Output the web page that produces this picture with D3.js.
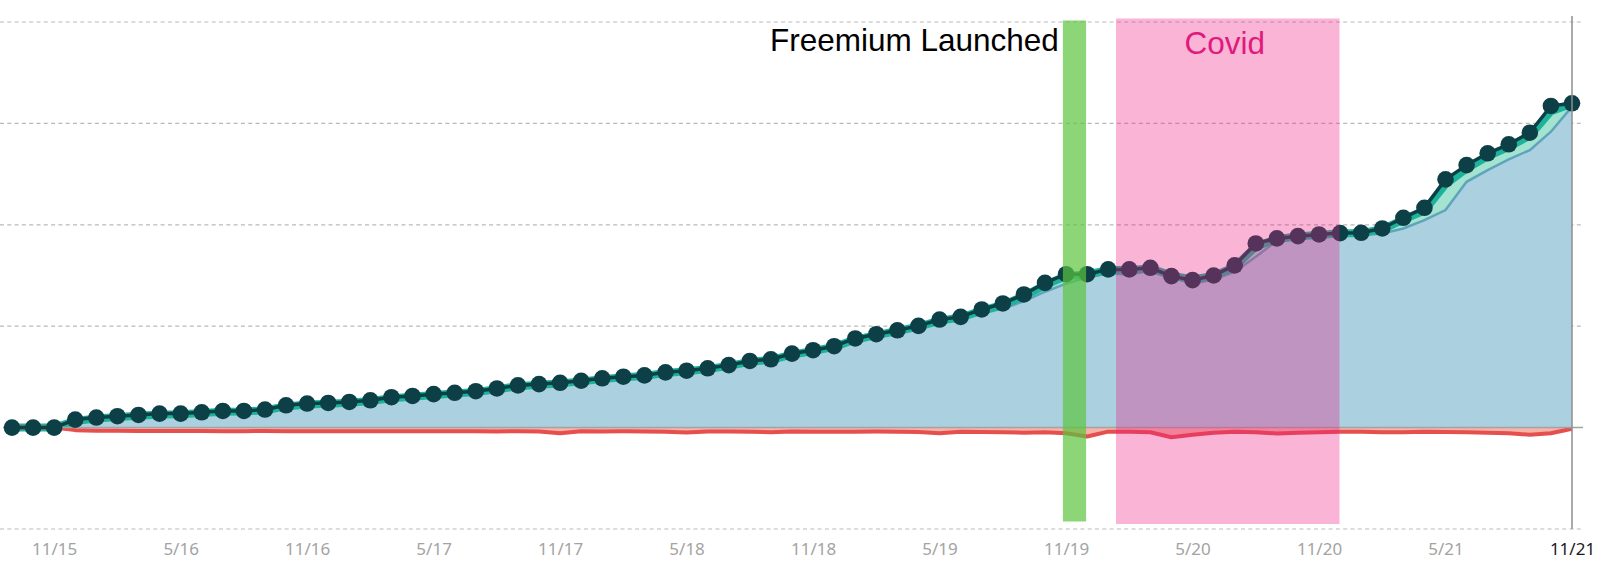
<!DOCTYPE html>
<html>
<head>
<meta charset="utf-8">
<script src="https://cdn.jsdelivr.net/npm/d3@7"></script>
<style>
  html, body { margin: 0; padding: 0; background: #ffffff; }
  svg { display: block; }
</style>
</head>
<body>
<svg id="chart" width="1600" height="572"></svg>
<script>
// ---------- DATA ----------
// monthly points, Sep 2015 .. Nov 2021 (75 months)
const startMonth = new Date(2015, 8, 1);
const endMonth = new Date(2021, 11, 1);
const months = d3.timeMonth.range(startMonth, endMonth).map(d3.timeFormat("%-m/%y"));

const tickLabels = ["11/15","5/16","11/16","5/17","11/17","5/18","11/18","5/19","11/19","5/20","11/20","5/21","11/21"];

// main series (dark line with markers)
const mainVals = [
  0, 0, 0, 7.9, 9.9, 11.2, 12.5, 13.8, 13.8, 15.1,
  16.4, 16.4, 17.8, 22, 23.7, 24.3, 25.3, 26.9, 30, 31.2,
  33, 34.3, 35.9, 38.6, 41.6, 42.9, 44.2, 46.2, 48.6, 50.2,
  51.5, 54.5, 56.1, 58.5, 61.6, 65.7, 67.4, 73, 76.3, 80.3,
  87.9, 92.1, 96, 100.3, 106.6, 109.2, 116.5, 122.4, 131.3, 142.7,
  151.3, 151.3, 156, 156, 157.6, 149.4, 145.4, 150, 160, 181.6,
  186.6, 188.8, 190.5, 191.8, 192.1, 196.4, 206.9, 216.8, 244.8, 258.9,
  270.5, 279.4, 290.8, 317.2, 319.8
];

// teal series (close under the main series)
const tealVals = [
  0, 0, 0, 6.5, 9, 10.4, 11.7, 12.9, 13.2, 14.3,
  15.6, 15.8, 17.1, 20.9, 22.8, 23.6, 24.6, 26.2, 29, 30.4,
  32.2, 33.6, 35.2, 37.8, 40.8, 42.2, 43.6, 45.6, 47.8, 49.6,
  51, 53.8, 55.6, 57.8, 60.9, 64.8, 66.8, 72, 75.6, 79.6,
  86.8, 91.2, 95.3, 99.6, 105.5, 108.6, 115.4, 121, 129.5, 140.5,
  149.5, 151, 155.5, 155.5, 157, 150, 146, 149.5, 158.5, 178.5,
  186, 188.4, 190.2, 191.4, 191.8, 195.6, 205.2, 214, 240, 255.5,
  267.5, 276.8, 288, 312, 319.5
];

// blue area series
const areaVals = [
  0, 0, 0, 4, 7.5, 9, 10.5, 11.5, 12, 13,
  14.2, 14.8, 16, 19, 21.5, 22.5, 23.5, 25, 27.5, 29.2,
  31, 32.5, 34, 36.5, 39.5, 41, 42.5, 44.5, 46.5, 48.5,
  50, 52.5, 54.5, 56.5, 59.5, 63, 65.5, 70, 74, 78,
  84.5, 89, 93.5, 98, 103, 107, 112.5, 117.5, 124.5, 134,
  142, 148, 152, 151, 154.6, 148.7, 142, 146, 153.6, 168.4,
  184.2, 187.6, 188.8, 189.8, 189.8, 191.5, 196.4, 204.6, 214.5, 242.4,
  254, 264.6, 273.7, 291.8, 316.5
];

// red (negative) series
const redVals = [
  0, 0, 0, -2.5, -3, -3.2, -3.3, -3.3, -3.4, -3.4,
  -3.5, -3.5, -3.4, -3.5, -3.6, -3.5, -3.6, -3.7, -3.6, -3.6,
  -3.7, -3.6, -3.5, -3.8, -3.6, -3.9, -5.5, -3.6, -3.8, -3.7,
  -3.8, -4, -4.8, -3.8, -3.9, -4, -4.6, -3.9, -4, -4.1,
  -4, -3.9, -4.2, -4.4, -5.5, -4.2, -4.3, -4.6, -5, -4.5,
  -5.5, -8.8, -4, -4.2, -4.6, -9.5, -7, -5, -4.2, -4.5,
  -5.8, -5, -4.5, -4.2, -4.2, -4.5, -4.6, -4.2, -4.3, -4.6,
  -5, -5.6, -7, -5.6, -1.2
];

// annotations (in fractional month index)
const annoFreemium = { label: "Freemium Launched", from: 49.85, to: 50.95 };
const annoCovid = { label: "Covid", from: 52.37, to: 62.97 };

const gridVals = [-100, 100, 200, 300, 400];

// ---------- CHART ----------
const svg = d3.select("#chart");

const x = d3.scaleLinear().domain([0, months.length - 1]).range([12, 1572]);
const y = d3.scaleLinear().domain([-100, 400]).range([529, 22]);

const idx = d3.range(months.length);

// gridlines
svg.append("g")
  .selectAll("line")
  .data(gridVals)
  .join("line")
  .attr("x1", 0).attr("x2", 1581)
  .attr("y1", d => y(d)).attr("y2", d => y(d))
  .attr("stroke", "#b9b9b9")
  .attr("stroke-width", 1.2)
  .attr("stroke-dasharray", "4,3.3");

// blue area
svg.append("path")
  .datum(idx)
  .attr("fill", "#abd0e0")
  .attr("d", d3.area().x(i => x(i)).y0(y(0)).y1(i => y(areaVals[i])));

// mint band between blue area and main line
svg.append("path")
  .datum(idx)
  .attr("fill", "#a3e3d0")
  .attr("d", d3.area().x(i => x(i)).y0(i => y(areaVals[i])).y1(i => y(mainVals[i])));

// blue area outline
svg.append("path")
  .datum(idx)
  .attr("fill", "none")
  .attr("stroke", "#5ea5bb")
  .attr("stroke-width", 2.5)
  .attr("d", d3.line().x(i => x(i)).y(i => y(areaVals[i])));

// teal line
svg.append("path")
  .datum(idx)
  .attr("fill", "none")
  .attr("stroke", "#1cb39a")
  .attr("stroke-width", 8)
  .attr("stroke-linejoin", "round")
  .attr("d", d3.line().x(i => x(i)).y(i => y(tealVals[i])));

// red area + line
svg.append("path")
  .datum(idx)
  .attr("fill", "#f3a093")
  .attr("opacity", 0.8)
  .attr("d", d3.area().x(i => x(i)).y0(y(0)).y1(i => y(redVals[i])));
svg.append("path")
  .datum(idx)
  .attr("fill", "none")
  .attr("stroke", "#e5504f")
  .attr("stroke-width", 4)
  .attr("stroke-linejoin", "round")
  .attr("d", d3.line().x(i => x(i)).y(i => y(redVals[i])));

// zero baseline
svg.append("line")
  .attr("x1", 3).attr("x2", 1583)
  .attr("y1", y(0)).attr("y2", y(0))
  .attr("stroke", "#a3a3a3")
  .attr("stroke-width", 1.5);

// main dark line
svg.append("path")
  .datum(idx)
  .attr("fill", "none")
  .attr("stroke", "#0d3f47")
  .attr("stroke-width", 3.5)
  .attr("stroke-linejoin", "round")
  .attr("d", d3.line().x(i => x(i)).y(i => y(mainVals[i])));

svg.append("g")
  .selectAll("circle")
  .data(idx)
  .join("circle")
  .attr("cx", i => x(i))
  .attr("cy", i => y(mainVals[i]))
  .attr("r", 8.3)
  .attr("fill", "#0d3f47");

// annotation bands (on top of data)
svg.append("rect")
  .attr("x", x(annoFreemium.from))
  .attr("width", x(annoFreemium.to) - x(annoFreemium.from))
  .attr("y", 20.5).attr("height", 521.5 - 20.5)
  .attr("fill", "#5cc43f").attr("opacity", 0.7);

svg.append("rect")
  .attr("x", x(annoCovid.from))
  .attr("width", x(annoCovid.to) - x(annoCovid.from))
  .attr("y", 18.5).attr("height", 524 - 18.5)
  .attr("fill", "#ec1b84").attr("opacity", 0.33);

svg.append("text")
  .attr("x", x(annoFreemium.from) - 4)
  .attr("y", 51)
  .attr("text-anchor", "end")
  .attr("font-family", "'Liberation Sans', Arial, sans-serif")
  .attr("font-size", 31.5)
  .attr("fill", "#000")
  .text(annoFreemium.label);

svg.append("text")
  .attr("x", (x(annoCovid.from) + x(annoCovid.to)) / 2 - 3)
  .attr("y", 54)
  .attr("text-anchor", "middle")
  .attr("font-family", "'Liberation Sans', Arial, sans-serif")
  .attr("font-size", 31.5)
  .attr("fill", "#e0197c")
  .text(annoCovid.label);

// right vertical axis line
svg.append("line")
  .attr("x1", x(months.length - 1)).attr("x2", x(months.length - 1))
  .attr("y1", 16).attr("y2", y(-100))
  .attr("stroke", "#8e8e8e").attr("stroke-width", 1.5);

// x axis labels
const tickIdx = tickLabels.map(t => months.indexOf(t));
const xAxis = d3.axisBottom(x)
  .tickValues(tickIdx)
  .tickFormat(i => months[i])
  .tickSize(0)
  .tickPadding(0);

const gx = svg.append("g")
  .attr("transform", `translate(0, ${y(-100) + 14})`)
  .call(xAxis);
gx.select(".domain").remove();
gx.selectAll("text")
  .attr("font-family", "'Noto Sans', 'Open Sans', sans-serif")
  .attr("font-size", 17)
  .attr("fill", (i) => i === months.length - 1 ? "#1a1a1a" : "#a3a3a3");
</script>
</body>
</html>
